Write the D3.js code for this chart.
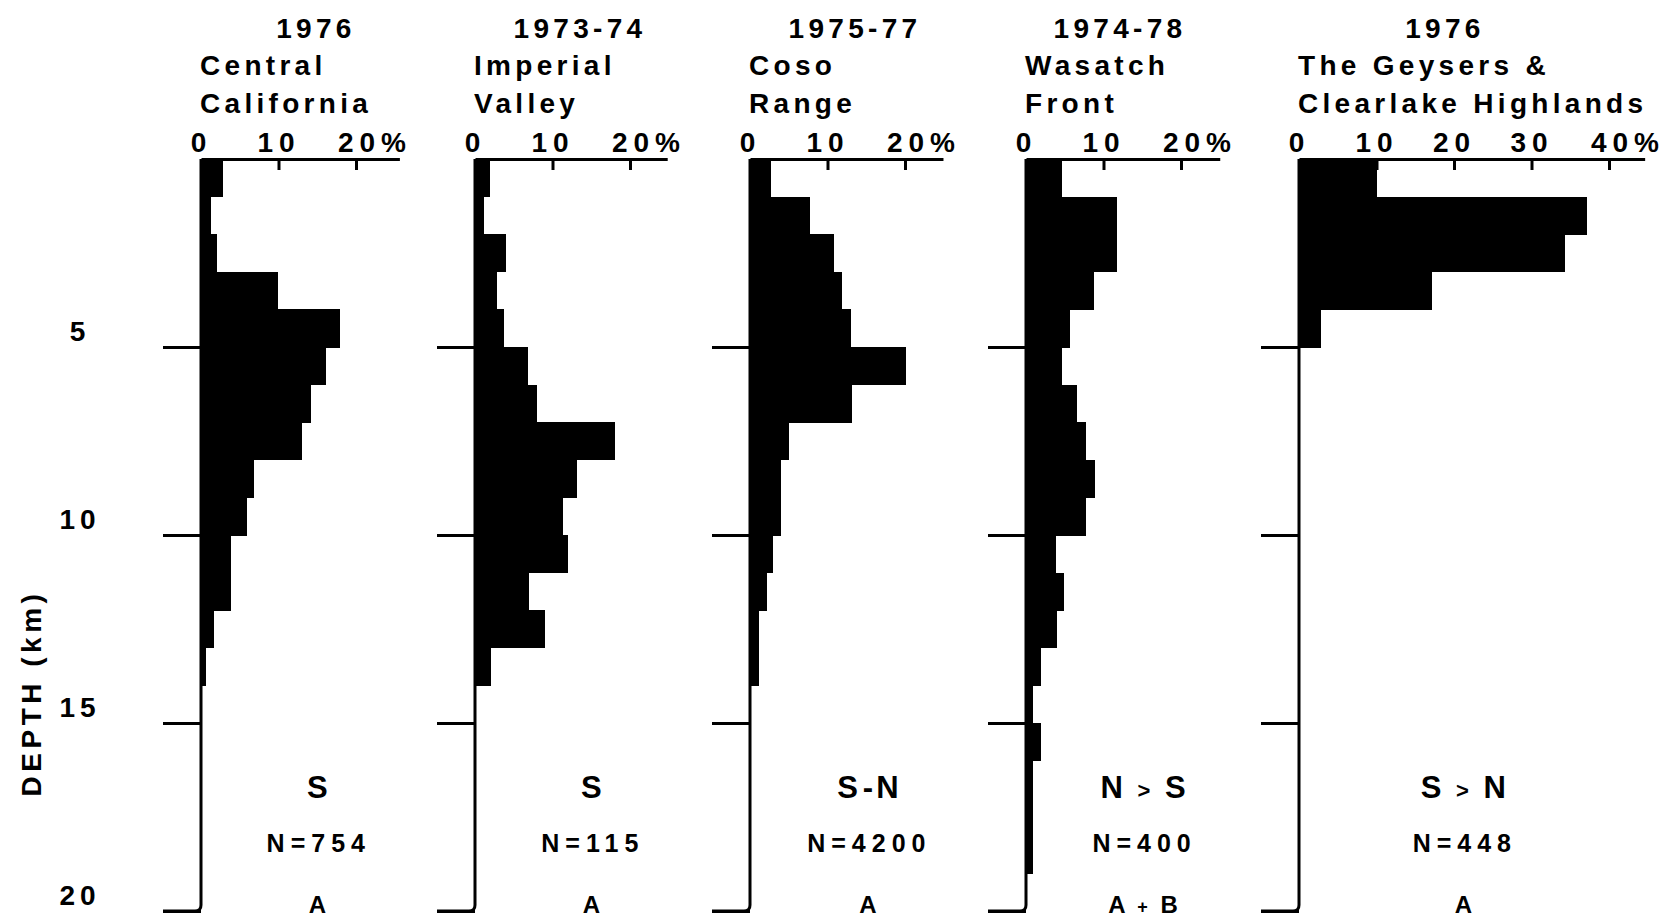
<!DOCTYPE html>
<html>
<head>
<meta charset="utf-8">
<script src="https://cdn.jsdelivr.net/npm/d3@7/dist/d3.min.js"></script>
<style>
  html, body { margin: 0; padding: 0; background: #fff; }
  svg { display: block; }
  text { font-family: "Liberation Sans", Arial, sans-serif; font-weight: bold; fill: #000; }
  .title { font-size: 28px; letter-spacing: 4.3px; }
  .pct { font-size: 28px; letter-spacing: 6px; }
  .depth { font-size: 28px; letter-spacing: 5px; }
  .ylabel { font-size: 28px; letter-spacing: 4.5px; }
  .mech { font-size: 31px; letter-spacing: 3px; }
  .count { font-size: 25px; letter-spacing: 6px; }
  .source { font-size: 24px; letter-spacing: 3px; }
</style>
</head>
<body>
<svg id="chart" width="1665" height="919"></svg>
<script>
// Percent of located earthquakes per 1-km depth bin (0-1 km ... 19-20 km)
const depthBins = d3.range(0, 20);

const centralCalifornia = [2.8, 1.3, 2.0, 9.9, 17.9, 16.1, 14.2, 13.0, 6.8, 5.9, 3.9, 3.9, 1.7, 0.7, 0, 0, 0, 0, 0, 0];
const imperialValley    = [1.9, 1.1, 4.0, 2.9, 3.8, 6.8, 8.0, 18.1, 13.1, 11.3, 12.0, 7.0, 9.0, 2.0, 0, 0, 0, 0, 0, 0];
const cosoRange         = [2.7, 7.8, 10.8, 11.9, 13.0, 20.1, 13.2, 5.0, 4.0, 4.0, 3.0, 2.2, 1.2, 1.2, 0, 0, 0, 0, 0, 0];
const wasatchFront      = [4.7, 11.7, 11.7, 8.8, 5.7, 4.6, 6.6, 7.7, 8.9, 7.8, 3.9, 4.9, 4.0, 1.9, 0.9, 1.9, 0.9, 0.9, 0.9, 0];
const geysersClearlake  = [10.0, 37.2, 34.3, 17.1, 2.9, 0, 0, 0, 0, 0, 0, 0, 0, 0, 0, 0, 0, 0, 0, 0];

const years       = ["1976", "1973-74", "1975-77", "1974-78", "1976"];
const titleLine1  = ["Central", "Imperial", "Coso", "Wasatch", "The Geysers &"];
const titleLine2  = ["California", "Valley", "Range", "Front", "Clearlake Highlands"];
const mechanisms  = ["S", "S", "S-N", "N > S", "S > N"];
const eventCounts = [754, 115, 4200, 400, 448];
const dataSources = ["A", "A", "A", "A + B", "A"];

const percentTicks = [[0, 10, 20], [0, 10, 20], [0, 10, 20], [0, 10, 20], [0, 10, 20, 30, 40]];
const depthTicks = [5, 10, 15, 20];

const series = [centralCalifornia, imperialValley, cosoRange, wasatchFront, geysersClearlake];

// ---- layout ----
const axisX    = [201, 475, 750, 1026, 1299];   // x of the 0 % line in each panel
const axisMax  = [25.6, 24.8, 24.9, 25.0, 44.6]; // extent of each percent axis
const pxPerPct = 7.75;
const yearDx   = [115, 105, 105, 94, 146];
const noteAt   = [15.2, 15.2, 15.4, 15.3, 21.4]; // centre of the lower notes, in %
const STROKE = 3;

const svg = d3.select("#chart");
const yDepth = d3.scaleLinear().domain([0, 20]).range([159, 911]);

// ">" and "+" are set a little smaller; the dash gets a bit of room either side
function richText(sel, str, small) {
  let gap = 0;
  str.split(/([>+\-])/).forEach(part => {
    if (!part) return;
    const t = sel.append("tspan").text(part);
    if (gap) { t.attr("dx", gap); gap = 0; }
    if (part === ">" || part === "+") t.style("font-size", small + "px");
    if (part === "-") { t.attr("dx", 2).style("letter-spacing", "0px"); gap = 3; }
  });
}

series.forEach((values, i) => {
  const x = d3.scaleLinear()
    .domain([0, axisMax[i]])
    .range([axisX[i], axisX[i] + axisMax[i] * pxPerPct]);
  const g = svg.append("g");

  // histogram bars
  const bins = depthBins.map((d, k) => ({ d, v: values[k] })).filter(b => b.v > 0);
  g.append("g").selectAll("rect").data(bins).join("rect")
    .attr("x", x(0))
    .attr("y", b => yDepth(b.d))
    .attr("width", b => x(b.v) - x(0))
    .attr("height", b => yDepth(b.d + 1) - yDepth(b.d) + 0.6)
    .attr("fill", "#000")
    .attr("shape-rendering", "crispEdges");

  // percent axis along the top
  const top = d3.axisTop(x)
    .tickValues(percentTicks[i])
    .tickSizeInner(-11)
    .tickSizeOuter(0)
    .tickPadding(7)
    .tickFormat(d3.format("d"));
  const gt = g.append("g")
    .attr("transform", `translate(0,${yDepth(0)})`)
    .call(top)
    .attr("font-size", null).attr("font-family", null);
  gt.select(".domain").attr("stroke", "#000").attr("stroke-width", STROKE);
  gt.selectAll(".tick line").attr("stroke", "#000").attr("stroke-width", STROKE);
  gt.selectAll(".tick text").attr("class", "pct");
  gt.selectAll(".tick text").filter((d, j, n) => j === n.length - 1).each(function () {
    const w = this.getComputedTextLength();
    d3.select(this).attr("text-anchor", "start").attr("x", -w / 2 + 3);
    d3.select(this).append("tspan").text("%");
  });

  // depth axis
  const left = d3.axisLeft(yDepth)
    .tickValues(depthTicks)
    .tickSizeInner(38)
    .tickSizeOuter(0)
    .tickPadding(0)
    .tickFormat(i === 0 ? d3.format("d") : "");
  const gl = g.append("g")
    .attr("transform", `translate(${x(0)},0)`)
    .call(left)
    .attr("font-size", null).attr("font-family", null);
  const yEnd = yDepth(20);
  gl.select(".domain")
    .attr("d", `M0,${yDepth(0)}V${yEnd - 6}Q0,${yEnd} -6,${yEnd}H-38`)
    .attr("stroke", "#000").attr("stroke-width", STROKE).attr("fill", "none");
  gl.selectAll(".tick line").attr("stroke", "#000").attr("stroke-width", STROKE);
  gl.selectAll(".tick text")
    .attr("class", "depth")
    .attr("text-anchor", "middle")
    .attr("x", -121)
    .attr("dy", "-0.22em");

  // panel headings
  g.append("text").attr("class", "title")
    .attr("x", x(0) + yearDx[i]).attr("y", 38).attr("text-anchor", "middle")
    .text(years[i]);
  g.append("text").attr("class", "title")
    .attr("x", x(0) - 1).attr("y", 75).text(titleLine1[i]);
  g.append("text").attr("class", "title")
    .attr("x", x(0) - 1).attr("y", 113).text(titleLine2[i]);

  // notes under each histogram
  const cx = x(noteAt[i]);
  richText(g.append("text").attr("class", "mech").attr("x", cx).attr("y", 798)
    .attr("text-anchor", "middle"), mechanisms[i], 22);
  g.append("text").attr("class", "count").attr("x", cx).attr("y", 852)
    .attr("text-anchor", "middle").text("N=" + eventCounts[i]);
  richText(g.append("text").attr("class", "source").attr("x", cx).attr("y", 913)
    .attr("text-anchor", "middle"), dataSources[i], 18);
});

// shared depth label
svg.append("text").attr("class", "ylabel")
  .attr("transform", `translate(41,${693}) rotate(-90)`)
  .attr("text-anchor", "middle")
  .text("DEPTH (km)");
</script>
</body>
</html>
